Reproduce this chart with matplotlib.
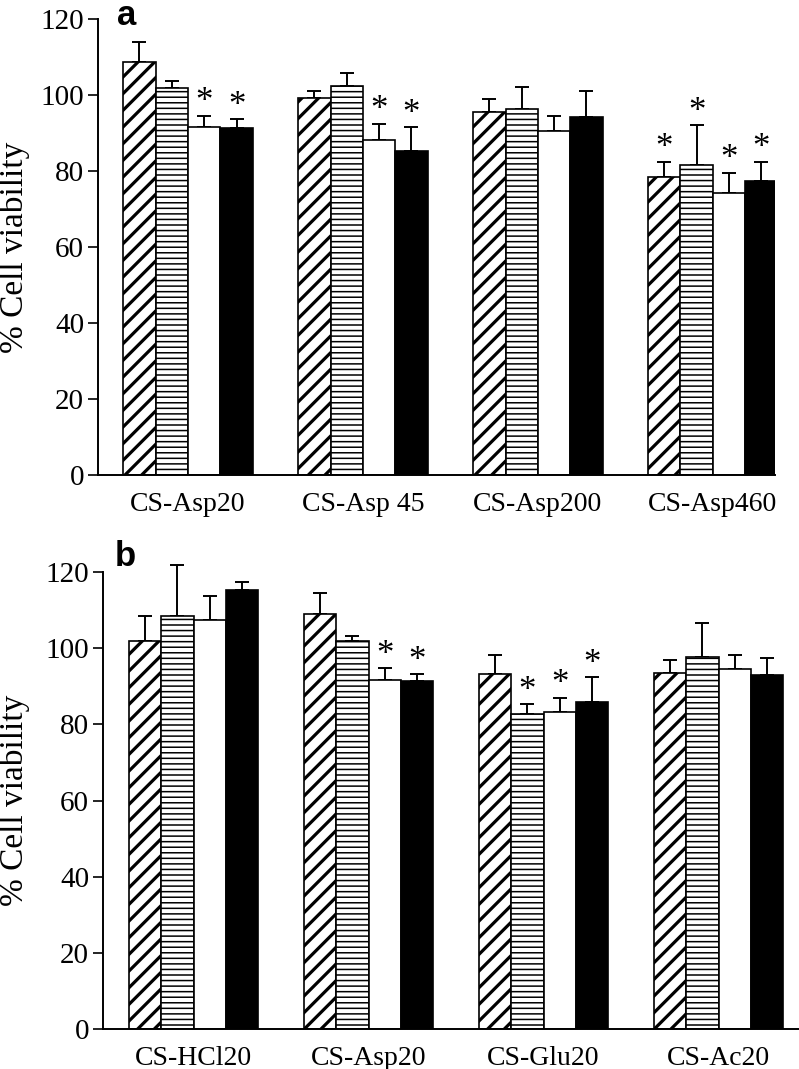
#!/usr/bin/env python3
"""Cell viability bar charts (panels a and b), hatched groups with upper error bars."""

import matplotlib
matplotlib.use("Agg")
import matplotlib.pyplot as plt
import numpy as np

plt.rcParams.update({
    "font.family": ["Liberation Serif", "DejaVu Serif"],
    "font.size": 20,
    "hatch.linewidth": 1.6,
    "axes.linewidth": 1.4,
})

# panel a
cats_a = ["CS-Asp20", "CS-Asp 45", "CS-Asp200", "CS-Asp460"]
a_means = [
    [108.6, 99.2, 95.6, 78.5],
    [101.8, 102.4, 96.2, 81.6],
    [91.7, 88.2, 90.6, 74.1],
    [91.2, 85.2, 94.2, 77.5],
]
a_errs = [
    [5.4, 1.9, 3.4, 4.0],
    [1.8, 3.3, 5.8, 10.5],
    [2.8, 4.3, 3.9, 5.4],
    [2.4, 6.3, 6.9, 5.0],
]
a_stars = [
    [False, False, False, True],
    [False, False, False, True],
    [True, True, False, True],
    [True, True, False, True],
]

# panel b
cats_b = ["CS-HCl20", "CS-Asp20", "CS-Glu20", "CS-Ac20"]
b_means = [
    [101.9, 108.9, 93.3, 93.6],
    [108.5, 101.9, 82.8, 97.6],
    [107.4, 91.7, 83.3, 94.6],
    [115.3, 91.4, 85.8, 93.0],
]
b_errs = [
    [6.6, 5.6, 4.8, 3.2],
    [13.4, 1.4, 2.5, 8.9],
    [6.2, 3.0, 3.7, 3.7],
    [2.1, 1.8, 6.6, 4.5],
]
b_stars = [
    [False, False, False, False],
    [False, False, True, False],
    [False, True, True, False],
    [False, True, True, False],
]

HATCHES = ["//", "---", "", ""]
HATCH_LW = [2.3, 1.1, 1.0, 1.0]
FACES = ["white", "white", "white", "black"]
WIDTH = 0.185


def draw_panel(ax, cats, means, errs, stars, xlim, label_x):
    x = np.arange(len(cats))
    n = len(means)
    for i in range(n):
        pos = x + (i - (n - 1) / 2) * WIDTH
        with plt.rc_context({"hatch.linewidth": HATCH_LW[i]}):
            bars = ax.bar(pos, means[i], WIDTH, color=FACES[i], edgecolor="black",
                          hatch=HATCHES[i], linewidth=1.2, zorder=2)
        for b in bars:
            if hasattr(b, "set_hatch_linewidth"):
                b.set_hatch_linewidth(HATCH_LW[i])
        ax.errorbar(pos, means[i], yerr=[np.zeros(len(cats)), errs[i]],
                    fmt="none", ecolor="black", elinewidth=1.4, capsize=5,
                    capthick=1.4, clip_on=False, zorder=1)
        for j in range(len(cats)):
            if stars[i][j]:
                ax.text(pos[j], means[i][j] + errs[i][j] + 3.4, "*",
                        ha="center", va="center", fontsize=25)
    ax.set_xticks(x)
    ax.set_xticklabels(cats)
    ax.set_xlim(*xlim)
    ax.set_ylim(0, 120)
    ax.set_yticks(np.arange(0, 121, 20))
    ax.spines["top"].set_visible(False)
    ax.spines["right"].set_visible(False)
    ax.tick_params(axis="x", length=0, pad=12, labelsize=20)
    ax.tick_params(axis="y", length=7, width=1.2, pad=3, labelsize=21)
    ax.set_ylabel("% Cell viability", fontsize=24)
    ax.yaxis.set_label_coords(label_x, 0.5)


fig = plt.figure(figsize=(7.99, 10.69), dpi=100)
ax_a = fig.add_axes([0.1227, 0.5557, 0.847, 0.4265])
ax_b = fig.add_axes([0.129, 0.0374, 0.871, 0.4275])

draw_panel(ax_a, cats_a, a_means, a_errs, a_stars, (-0.514, 3.354), -0.100)
draw_panel(ax_b, cats_b, b_means, b_errs, b_stars, (-0.517, 3.46), -0.105)

fig.text(0.159, 0.9766, "a", fontsize=25, fontweight="bold",
         family="Liberation Sans", ha="center", va="baseline")
fig.text(0.157, 0.4705, "b", fontsize=25, fontweight="bold",
         family="Liberation Sans", ha="center", va="baseline")

fig.savefig("out.png", dpi=100)
plt.close()
